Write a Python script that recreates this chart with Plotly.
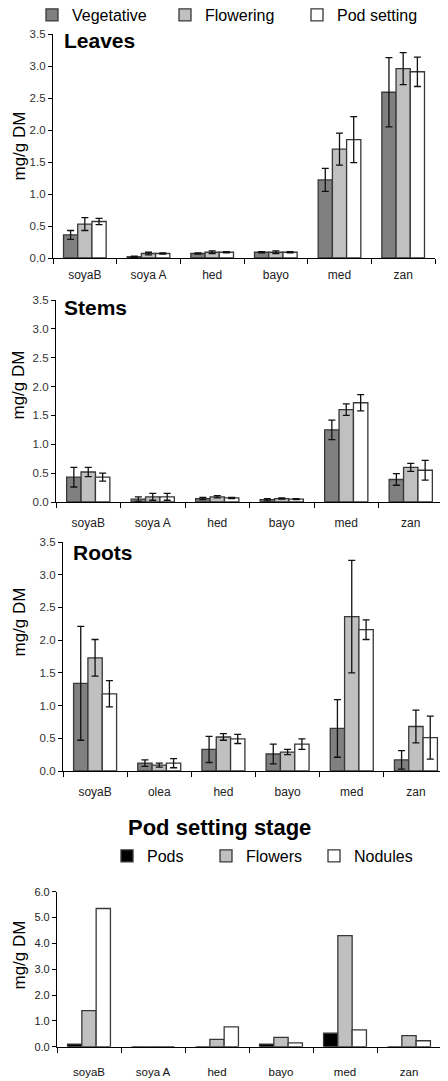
import plotly.graph_objects as go

# ---------------- data ----------------
categories = ["soyaB", "soya A", "hed", "bayo", "med", "zan"]
roots_categories = ["soyaB", "olea", "hed", "bayo", "med", "zan"]

leaves_veg = [0.36, 0.02, 0.07, 0.09, 1.22, 2.59]
leaves_veg_err = [0.07, 0.01, 0.01, 0.01, 0.18, 0.54]
leaves_flo = [0.53, 0.07, 0.09, 0.09, 1.70, 2.96]
leaves_flo_err = [0.10, 0.02, 0.02, 0.02, 0.25, 0.25]
leaves_pod = [0.57, 0.07, 0.09, 0.09, 1.85, 2.91]
leaves_pod_err = [0.05, 0.01, 0.01, 0.01, 0.36, 0.23]

stems_veg = [0.43, 0.05, 0.06, 0.04, 1.25, 0.39]
stems_veg_err = [0.17, 0.04, 0.02, 0.02, 0.17, 0.10]
stems_flo = [0.52, 0.09, 0.09, 0.06, 1.60, 0.60]
stems_flo_err = [0.08, 0.06, 0.02, 0.01, 0.10, 0.07]
stems_pod = [0.43, 0.09, 0.07, 0.05, 1.72, 0.55]
stems_pod_err = [0.07, 0.06, 0.01, 0.01, 0.14, 0.17]

roots_veg = [1.34, 0.12, 0.33, 0.26, 0.65, 0.17]
roots_veg_err = [0.87, 0.05, 0.20, 0.15, 0.44, 0.14]
roots_flo = [1.73, 0.09, 0.52, 0.29, 2.36, 0.68]
roots_flo_err = [0.28, 0.03, 0.05, 0.04, 0.86, 0.25]
roots_pod = [1.18, 0.12, 0.49, 0.41, 2.16, 0.51]
roots_pod_err = [0.20, 0.07, 0.07, 0.08, 0.15, 0.33]

pods = [0.10, 0.0, 0.0, 0.10, 0.52, 0.0]
flowers = [1.40, 0.0, 0.28, 0.36, 4.30, 0.43]
nodules = [5.35, 0.0, 0.77, 0.15, 0.65, 0.23]

stage_names = ["Vegetative", "Flowering", "Pod setting"]
organ_names = ["Pods", "Flowers", "Nodules"]
yticks_top = [0.0, 0.5, 1.0, 1.5, 2.0, 2.5, 3.0, 3.5]
yticks_bottom = [0.0, 1.0, 2.0, 3.0, 4.0, 5.0, 6.0]

# ---------------- styling ----------------
# the page body adds an 8px offset, so the figure is drawn 8px smaller and all
# screen positions below are converted with that offset
OFF = 8
W, H = 448 - OFF, 1081 - OFF
stage_colors = ["#808080", "#C0C0C0", "#FFFFFF"]
organ_colors = ["#000000", "#C0C0C0", "#FFFFFF"]
OUTLINE = "#383838"
FONT = "Liberation Sans, Arial, sans-serif"


def fx(x):
    return (x - OFF) / W


def fy(y):
    return 1 - (y - OFF) / H


def px_x(a, b):
    return [max(fx(a), 0.0), min(fx(b), 1.0)]


def px_y(top, bottom):
    return [fy(bottom), fy(top)]


fig = go.Figure()

panels = [
    ("", categories, [(leaves_veg, leaves_veg_err), (leaves_flo, leaves_flo_err), (leaves_pod, leaves_pod_err)]),
    ("2", categories, [(stems_veg, stems_veg_err), (stems_flo, stems_flo_err), (stems_pod, stems_pod_err)]),
    ("3", roots_categories, [(roots_veg, roots_veg_err), (roots_flo, roots_flo_err), (roots_pod, roots_pod_err)]),
]

stage_legends = ["legend", "legend2", "legend3"]
organ_legends = ["legend4", "legend5", "legend6"]

for pi, (suf, cats, series) in enumerate(panels):
    for si, (vals, errs) in enumerate(series):
        fig.add_trace(go.Bar(
            x=cats, y=vals, name=stage_names[si],
            xaxis="x" + suf, yaxis="y" + suf,
            marker=dict(color=stage_colors[si], line=dict(color=OUTLINE, width=1.3)),
            error_y=dict(type="data", array=errs, visible=True, color="#111111", thickness=1.3, width=3.5),
            showlegend=(pi == 0), legend=stage_legends[si],
        ))

for si, vals in enumerate([pods, flowers, nodules]):
    fig.add_trace(go.Bar(
        x=categories, y=vals, name=organ_names[si],
        xaxis="x4", yaxis="y4",
        marker=dict(color=organ_colors[si], line=dict(color=OUTLINE, width=1.3)),
        showlegend=True, legend=organ_legends[si],
    ))

axis_common = dict(showgrid=False, zeroline=False, showline=True, linecolor="#000000", linewidth=1.2,
                   ticks="outside", tickcolor="#000000", ticklen=5, tickwidth=1.2, automargin=False)

xdomains = [px_x(53, 435), px_x(56, 443), px_x(63, 449), px_x(57, 441)]
ydomains = [px_y(34, 258), px_y(300, 502), px_y(542, 771), px_y(891.7, 1046.7)]
xstand = [5, 9, 9, 14]

layout_axes = {}
for i in range(4):
    key = "" if i == 0 else str(i + 1)
    if i == 3:
        xfont = dict(family=FONT, size=11.5, color="#111111")
        yfont = dict(family=FONT, size=11, color="#222222")
    else:
        xfont = dict(family=FONT, size=12, color="#222222")
        yfont = dict(family=FONT, size=11.5, color="#333333")
    layout_axes["xaxis" + key] = dict(
        axis_common, domain=xdomains[i], anchor="y" + key, range=[-0.5, 5.5],
        tickson="boundaries", tickfont=xfont, ticklabelstandoff=xstand[i], fixedrange=True,
    )
    layout_axes["yaxis" + key] = dict(
        axis_common, domain=ydomains[i], anchor="x" + key,
        range=[0, 3.5] if i < 3 else [0, 6.0],
        tickvals=yticks_top if i < 3 else yticks_bottom,
        tickformat=".1f", ticklen=4, tickfont=yfont,
    )

annotations = []
for (txt, x, y) in [("Leaves", 62, 40), ("Stems", 62, 308), ("Roots", 71, 552)]:
    annotations.append(dict(text="<b>%s</b>" % txt, x=fx(x), y=fy(y), xref="paper", yref="paper",
                            xanchor="left", yanchor="middle", showarrow=False,
                            font=dict(family=FONT, size=21, color="#000000")))
annotations.append(dict(text="<b>Pod setting stage</b>", x=fx(219), y=fy(827), xref="paper", yref="paper",
                        xanchor="center", yanchor="middle", showarrow=False,
                        font=dict(family=FONT, size=22, color="#000000")))
for y in [146, 385, 622, 955]:
    annotations.append(dict(text="mg/g DM", x=0.0, y=fy(y), xref="paper", yref="paper",
                            xanchor="left", yanchor="middle", textangle=-90, showarrow=False,
                            borderpad=0, font=dict(family=FONT, size=17, color="#000000")))

legend_layout = {}
stage_box_x = [47, 180, 312]
organ_box_x = [122, 221, 329]
for name, bx in zip(stage_legends, stage_box_x):
    legend_layout[name] = dict(x=fx(bx - 15), y=fy(15), xanchor="left", yanchor="middle",
                               orientation="h", itemwidth=30,
                               font=dict(family=FONT, size=16, color="#000000"), bgcolor="rgba(0,0,0,0)")
for name, bx in zip(organ_legends, organ_box_x):
    legend_layout[name] = dict(x=fx(bx - 15), y=fy(856), xanchor="left", yanchor="middle",
                               orientation="h", itemwidth=30,
                               font=dict(family=FONT, size=16, color="#000000"), bgcolor="rgba(0,0,0,0)")

fig.update_layout(
    template="none",
    width=W, height=H, margin=dict(l=0, r=0, t=0, b=0, autoexpand=False),
    paper_bgcolor="white", plot_bgcolor="white",
    barmode="group", bargap=0.33, bargroupgap=0.0,
    font=dict(family=FONT, color="#000000"),
    annotations=annotations,
    **legend_layout,
    **layout_axes,
)

fig.write_html("out.html")
